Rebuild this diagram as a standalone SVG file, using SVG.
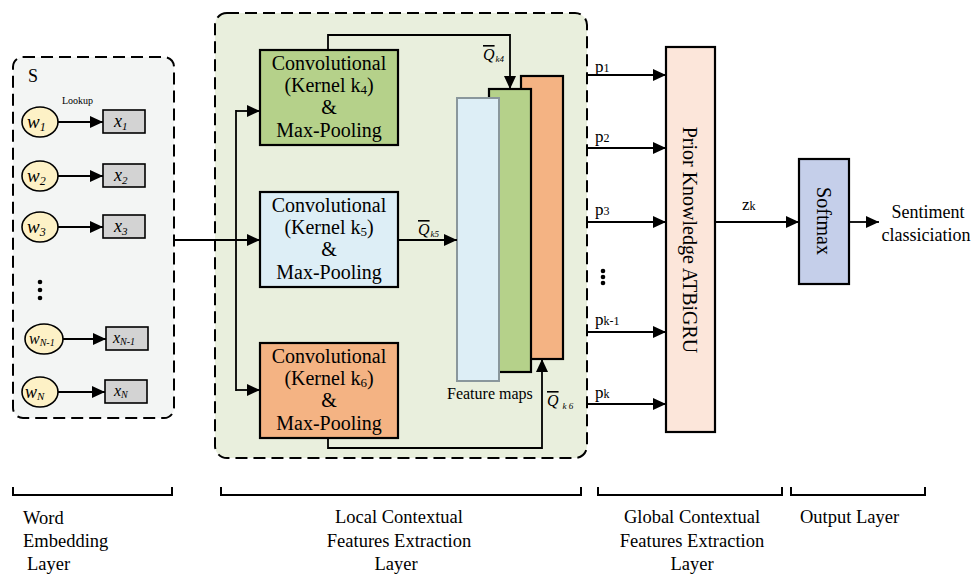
<svg xmlns="http://www.w3.org/2000/svg" width="973" height="576" viewBox="0 0 973 576" font-family="'Liberation Serif', serif">
<defs>
<marker id="ah" markerUnits="userSpaceOnUse" markerWidth="14" markerHeight="12" refX="13" refY="6" orient="auto">
<path d="M0,0 L13,6 L0,12 z" fill="#000"/>
</marker>
<style>
svg, text, tspan { font-family: 'Liberation Serif', serif; }
text { fill: #000; }
.it { font-style: italic; }
.con { fill: none; stroke: #000; stroke-width: 1.8; marker-end: url(#ah); }
.plain { fill: none; stroke: #000; stroke-width: 1.8; }
.word { fill: #fdf1c6; stroke: #000; stroke-width: 1.6; }
.vec { fill: #d3d3d3; stroke: #000; stroke-width: 1.6; }
.box { stroke: #000; stroke-width: 2.2; }
.cv { font-size: 20px; text-anchor: middle; }
.br { fill: none; stroke: #000; stroke-width: 2; }
.lay { font-size: 18.5px; }
.ov { text-decoration: overline; }
</style>
</defs>
<rect width="973" height="576" fill="#fff"/>

<g id="word-embedding-layer">
<rect x="13" y="57" width="161" height="361" rx="10" fill="#f3f5f4" stroke="#000" stroke-width="2" stroke-dasharray="12 6"/>
<text x="28" y="82" font-size="18">S</text>
<text x="62" y="104" font-size="10">Lookup</text>
</g>

<g id="w1"><ellipse class="word" cx="40" cy="122" rx="18" ry="15"/><text class="it" x="27" y="128" font-size="19">w<tspan font-size="12" dy="3">1</tspan></text></g>
<g id="x1"><rect class="vec" x="103" y="110" width="42" height="23"/><text class="it" x="114" y="127" font-size="18">x<tspan font-size="11" dy="3">1</tspan></text></g>
<g id="w2"><ellipse class="word" cx="40" cy="176" rx="18" ry="15"/><text class="it" x="27" y="182" font-size="19">w<tspan font-size="12" dy="3">2</tspan></text></g>
<g id="x2"><rect class="vec" x="103" y="164" width="42" height="23"/><text class="it" x="114" y="181" font-size="18">x<tspan font-size="11" dy="3">2</tspan></text></g>
<g id="w3"><ellipse class="word" cx="40" cy="227" rx="18" ry="15"/><text class="it" x="27" y="233" font-size="19">w<tspan font-size="12" dy="3">3</tspan></text></g>
<g id="x3"><rect class="vec" x="103" y="215" width="42" height="23"/><text class="it" x="114" y="232" font-size="18">x<tspan font-size="11" dy="3">3</tspan></text></g>
<g id="dots-left"><circle cx="40" cy="282" r="2.3"/><circle cx="40" cy="290" r="2.3"/><circle cx="40" cy="298" r="2.3"/></g>
<g id="wN-1"><ellipse class="word" cx="44" cy="339" rx="19" ry="15"/><text class="it" x="29" y="344" font-size="16">w<tspan font-size="10" dy="2">N-1</tspan></text></g>
<g id="xN-1"><rect class="vec" x="106" y="327" width="42" height="23"/><text class="it" x="113" y="343" font-size="16">x<tspan font-size="10" dy="2">N-1</tspan></text></g>
<g id="wN"><ellipse class="word" cx="40" cy="392" rx="18" ry="15"/><text class="it" x="25" y="398" font-size="18">w<tspan font-size="11" dy="2">N</tspan></text></g>
<g id="xN"><rect class="vec" x="105" y="380" width="42" height="23"/><text class="it" x="114" y="396" font-size="16">x<tspan font-size="10" dy="2">N</tspan></text></g>

<g id="local-layer">
<rect x="215" y="13" width="372" height="445" rx="12" fill="#e9efdd" stroke="#000" stroke-width="2" stroke-dasharray="12 6"/>
</g>

<g id="conv-k4">
<rect class="box" x="260" y="50" width="138" height="95" fill="#b5d18a"/>
<text class="cv" x="329" y="70">Convolutional</text>
<text class="cv" x="329" y="92">(Kernel k<tspan font-size="13" dy="2">4</tspan><tspan dy="-2">)</tspan></text>
<text class="cv" x="329" y="114">&amp;</text>
<text class="cv" x="329" y="137">Max-Pooling</text>
</g>
<g id="conv-k5">
<rect class="box" x="260" y="192" width="138" height="95" fill="#ddeef6"/>
<text class="cv" x="329" y="212">Convolutional</text>
<text class="cv" x="329" y="234">(Kernel k<tspan font-size="13" dy="2">5</tspan><tspan dy="-2">)</tspan></text>
<text class="cv" x="329" y="256">&amp;</text>
<text class="cv" x="329" y="279">Max-Pooling</text>
</g>
<g id="conv-k6">
<rect class="box" x="260" y="343" width="138" height="95" fill="#f4b383"/>
<text class="cv" x="329" y="363">Convolutional</text>
<text class="cv" x="329" y="385">(Kernel k<tspan font-size="13" dy="2">6</tspan><tspan dy="-2">)</tspan></text>
<text class="cv" x="329" y="407">&amp;</text>
<text class="cv" x="329" y="430">Max-Pooling</text>
</g>

<g id="feature-maps">
<rect x="521" y="76" width="42" height="283" fill="#f4b383" stroke="#000" stroke-width="2.2"/>
<rect x="489" y="89" width="42" height="283" fill="#b5d18a" stroke="#000" stroke-width="2.2"/>
<rect x="457" y="98" width="42" height="283" fill="#ddeef6" stroke="#8a979c" stroke-width="2"/>
<text x="447" y="399" font-size="16">Feature maps</text>
</g>

<g id="atbigru">
<rect class="box" x="666" y="47" width="49" height="385" fill="#fce6da"/>
<text x="690" y="240" font-size="20" text-anchor="middle" dy="7" transform="rotate(90 690 240)">Prior Knowledge ATBiGRU</text>
</g>

<g id="softmax">
<rect class="box" x="799" y="159" width="50" height="125" fill="#c5cfea"/>
<text x="824" y="221" font-size="20" text-anchor="middle" dy="7" transform="rotate(90 824 221)">Softmax</text>
</g>

<g id="output">
<text x="928" y="218" font-size="18" text-anchor="middle">Sentiment</text>
<text x="926" y="241" font-size="18" text-anchor="middle">classiciation</text>
</g>

<g id="connectors">
<line class="con" x1="58" y1="122" x2="103" y2="122"/>
<line class="con" x1="58" y1="176" x2="103" y2="176"/>
<line class="con" x1="58" y1="227" x2="103" y2="227"/>
<line class="con" x1="63" y1="339" x2="106" y2="339"/>
<line class="con" x1="58" y1="392" x2="105" y2="392"/>
<line class="con" x1="174" y1="240" x2="260" y2="240"/>
<line class="plain" x1="236" y1="110" x2="236" y2="391"/>
<line class="con" x1="236" y1="111" x2="260" y2="111"/>
<line class="con" x1="236" y1="390" x2="260" y2="390"/>
<path class="con" d="M328,50 V35 H510 V89"/>
<line class="con" x1="398" y1="240" x2="457" y2="240"/>
<path class="con" d="M328,438 V448 H542 V359"/>
<line class="con" x1="587" y1="75" x2="666" y2="75"/>
<line class="con" x1="587" y1="148" x2="666" y2="148"/>
<line class="con" x1="587" y1="222" x2="666" y2="222"/>
<line class="con" x1="587" y1="332" x2="666" y2="332"/>
<line class="con" x1="587" y1="404" x2="666" y2="404"/>
<line class="con" x1="715" y1="222" x2="799" y2="222"/>
<line class="con" x1="849" y1="222" x2="879" y2="222"/>
</g>

<g id="connector-labels">
<text class="it" x="483" y="60" font-size="16"><tspan class="ov">Q</tspan><tspan font-size="9" dx="1" dy="2">k4</tspan></text>
<text class="it" x="418" y="235" font-size="16"><tspan class="ov">Q</tspan><tspan font-size="9" dx="1" dy="2">k5</tspan></text>
<text class="it" x="547" y="406" font-size="16"><tspan class="ov">Q</tspan><tspan font-size="9" dx="4" dy="3">k 6</tspan></text>
<text x="595" y="72" font-size="17">p<tspan font-size="12">1</tspan></text>
<text x="595" y="142" font-size="17">p<tspan font-size="12">2</tspan></text>
<text x="595" y="215" font-size="17">p<tspan font-size="12">3</tspan></text>
<g id="dots-right"><circle cx="603" cy="271" r="2.3"/><circle cx="603" cy="277" r="2.3"/><circle cx="603" cy="283" r="2.3"/></g>
<text x="595" y="325" font-size="17">p<tspan font-size="12">k-1</tspan></text>
<text x="595" y="398" font-size="17">p<tspan font-size="12">k</tspan></text>
<text x="742" y="210" font-size="17">z<tspan font-size="12">k</tspan></text>
</g>

<g id="layer-labels">
<path class="br" d="M13,487 V495 H172 V487"/>
<path class="br" d="M221,487 V495 H581 V487"/>
<path class="br" d="M598,487 V495 H782 V487"/>
<path class="br" d="M791,487 V495 H925 V487"/>
<text class="lay" x="23" y="524">Word</text>
<text class="lay" x="23" y="547">Embedding</text>
<text class="lay" x="27" y="570">Layer</text>
<text class="lay" x="399" y="523" text-anchor="middle">Local Contextual</text>
<text class="lay" x="399" y="547" text-anchor="middle">Features Extraction</text>
<text class="lay" x="396" y="570" text-anchor="middle">Layer</text>
<text class="lay" x="692" y="523" text-anchor="middle">Global Contextual</text>
<text class="lay" x="692" y="547" text-anchor="middle">Features Extraction</text>
<text class="lay" x="692" y="570" text-anchor="middle">Layer</text>
<text class="lay" x="800" y="523">Output Layer</text>
</g>
</svg>
